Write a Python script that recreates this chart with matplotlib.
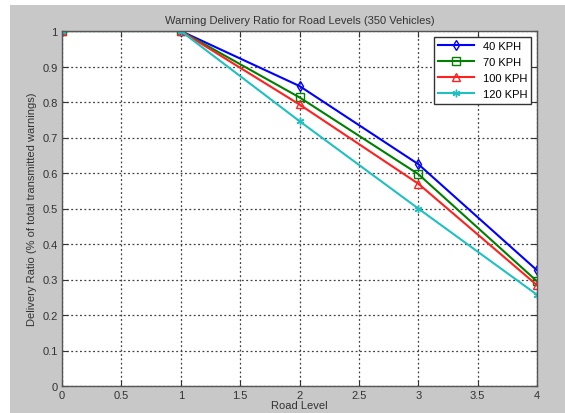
import numpy as np
import matplotlib.pyplot as plt
from matplotlib.patches import Rectangle

plt.rcParams['font.family'] = ['Liberation Sans', 'DejaVu Sans']

# data
road_level = [0, 1, 2, 3, 4]
kph_40 = [1.0, 1.0, 0.845, 0.625, 0.326]
kph_70 = [1.0, 1.0, 0.813, 0.597, 0.295]
kph_100 = [1.0, 1.0, 0.793, 0.570, 0.284]
kph_120 = [1.0, 1.0, 0.746, 0.500, 0.257]
series_labels = ['40 KPH', '70 KPH', '100 KPH', '120 KPH']

fig = plt.figure(figsize=(5.65, 4.14), dpi=100, facecolor='#c8c8c8')
# white strip at top and left like the screenshot
fig.patches.append(Rectangle((0, 0), 10 / 565, 1, transform=fig.transFigure,
                             facecolor='white', edgecolor='none', zorder=-1))
fig.patches.append(Rectangle((0, 1 - 6 / 414), 1, 6 / 414, transform=fig.transFigure,
                             facecolor='white', edgecolor='none', zorder=-1))

ax = fig.add_axes([62 / 565, 27 / 414, 475 / 565, 355 / 414])
ax.set_facecolor('white')

ax.plot(road_level, kph_40, color='#0000ff', marker='d', mfc='none', ms=5.5, lw=1.5, label=series_labels[0])
ax.plot(road_level, kph_70, color='#008000', marker='s', mfc='none', ms=5.5, lw=1.5, label=series_labels[1])
ax.plot(road_level, kph_100, color='#ff2020', marker='^', mfc='none', ms=5.5, lw=1.5, label=series_labels[2])
ax.plot(road_level, kph_120, color='#20c0c0', marker=(6, 2, 0), ms=5.5, lw=1.5, label=series_labels[3])

ax.set_xlim(0, 4)
ax.set_ylim(0, 1)
ax.set_xticks(np.arange(0, 4.01, 0.5))
ax.set_xticklabels(['0', '0.5', '1', '1.5', '2', '2.5', '3', '3.5', '4'])
ax.set_yticks(np.arange(0, 1.01, 0.1))
ax.set_yticklabels(['0', '0.1', '0.2', '0.3', '0.4', '0.5', '0.6', '0.7', '0.8', '0.9', '1'])
ax.grid(True, linestyle=(0, (1.5, 2)), color='#404040', linewidth=0.9)
ax.tick_params(direction='in', length=4, labelsize=8, colors='#333333',
               top=True, right=True, pad=3)
for s in ax.spines.values():
    s.set_color('#555555')
    s.set_linewidth(1.0)

ax.set_title('Warning Delivery Ratio for Road Levels (350 Vehicles)', fontsize=8, color='#333333', pad=6)
ax.set_xlabel('Road Level', fontsize=8, color='#333333', labelpad=0)
ax.set_ylabel('Delivery Ratio (% of total transmitted warnings)', fontsize=8, color='#333333', labelpad=4)

leg = ax.legend(loc='upper right', fontsize=8, frameon=True, fancybox=False,
                edgecolor='#333333', framealpha=1, handlelength=3.2,
                borderaxespad=0.5, labelspacing=0.55)
leg.get_frame().set_linewidth(1.0)

fig.savefig('out.png', dpi=100, facecolor=fig.get_facecolor())
